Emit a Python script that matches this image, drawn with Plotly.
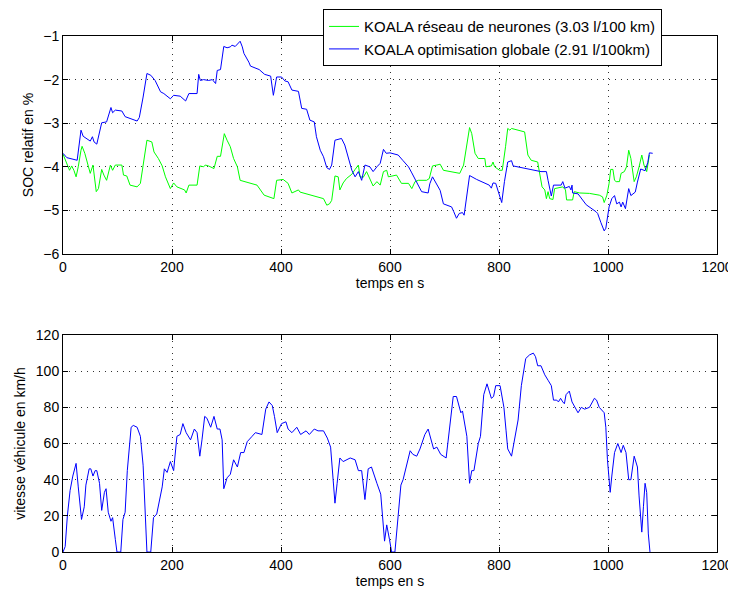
import plotly.graph_objects as go

# SOC relatif (%) - KOALA optimisation globale
t_opt = [0, 7, 26, 33, 37, 50, 54, 57, 62, 71, 80, 88, 91, 96, 108, 114, 136, 140, 147, 154,
         161, 169, 179, 185, 197, 203, 215, 225, 231, 246, 249, 252, 258, 267, 274, 280, 283, 289,
         295, 301, 307, 310, 316, 320, 325, 329, 332, 341, 344, 360, 370, 381, 386, 392, 401, 407,
         413, 420, 432, 438, 447, 453, 461, 465, 472, 478, 484, 489, 493, 499, 505, 511, 517, 524,
         530, 536, 542, 548, 554, 563, 569, 576, 582, 588, 593, 600, 615, 624, 634, 640, 649, 658,
         670, 673, 678, 686, 692, 698, 713, 717, 722, 727, 733, 736, 746, 759, 782, 786, 789, 794,
         800, 805, 810, 816, 823, 826, 877, 887, 890, 896, 900, 914, 917, 921, 929, 932, 934, 935,
         945, 954, 960, 978, 981, 987, 993, 996, 1002, 1007, 1012, 1016, 1021, 1024, 1027, 1032,
         1038, 1042, 1050, 1054, 1060, 1068, 1073, 1076, 1082]
soc_opt = [-3.69, -3.79, -3.85, -3.16, -3.30, -3.41, -3.31, -3.43, -3.48, -2.99, -2.97, -2.64,
           -2.76, -2.70, -2.72, -2.85, -2.95, -2.87, -2.40, -1.86, -1.90, -2.02, -2.28, -2.32,
           -2.44, -2.36, -2.38, -2.49, -2.32, -2.32, -1.88, -2.02, -2.00, -2.02, -2.00, -2.09,
           -1.79, -1.77, -1.24, -1.27, -1.25, -1.21, -1.24, -1.19, -1.12, -1.25, -1.40, -1.60,
           -1.69, -1.77, -1.88, -1.92, -2.36, -1.94, -1.94, -2.03, -2.05, -2.24, -2.27, -2.66,
           -2.68, -2.93, -2.97, -3.31, -3.62, -3.77, -4.02, -4.06, -3.96, -3.39, -3.37, -3.35,
           -3.50, -3.81, -4.08, -4.23, -4.11, -4.31, -3.96, -4.00, -4.11, -4.00, -3.92, -3.60,
           -3.69, -3.68, -3.73, -3.86, -4.00, -4.14, -4.34, -4.57, -4.60, -4.39, -4.23, -4.40,
           -4.54, -4.85, -4.92, -5.03, -5.18, -5.07, -5.05, -5.11, -4.20, -4.29, -4.42, -4.49,
           -4.37, -4.38, -4.65, -4.82, -4.34, -3.89, -3.86, -3.98, -4.11, -4.11, -4.31, -4.67,
           -4.42, -4.42, -4.34, -4.49, -4.45, -4.53, -4.42, -4.60, -4.62, -4.76, -4.87, -5.03,
           -5.07, -5.28, -5.47, -5.41, -4.92, -4.73, -4.66, -4.85, -4.81, -4.92, -4.81, -4.96,
           -4.50, -4.66, -4.58, -4.35, -4.05, -4.09, -3.90, -3.68, -3.69]

# SOC relatif (%) - KOALA reseau de neurones
t_nn = [0, 5, 12, 16, 20, 24, 28, 33, 35, 40, 50, 55, 61, 65, 71, 75, 80, 87, 91, 96, 108, 111,
        117, 123, 136, 142, 148, 154, 163, 167, 175, 182, 188, 197, 203, 209, 223, 226, 231, 246,
        251, 258, 261, 267, 277, 283, 289, 296, 301, 307, 313, 320, 325, 356, 369, 387, 392, 404,
        413, 420, 432, 435, 478, 484, 489, 493, 499, 505, 508, 514, 520, 530, 536, 542, 545, 551,
        557, 563, 569, 576, 582, 588, 594, 597, 612, 621, 634, 640, 646, 652, 667, 672, 678, 686,
        692, 698, 728, 735, 741, 746, 750, 756, 762, 774, 776, 786, 789, 792, 801, 806, 812, 816,
        820, 823, 847, 853, 859, 871, 874, 879, 884, 887, 890, 893, 899, 902, 917, 922, 924, 935,
        938, 948, 966, 984, 990, 993, 998, 1002, 1005, 1009, 1012, 1015, 1021, 1024, 1030, 1034,
        1038, 1042, 1048, 1052, 1057, 1062, 1066, 1071, 1076]
soc_nn = [-3.71, -3.85, -4.08, -3.98, -4.08, -4.23, -4.00, -3.62, -3.53, -3.69, -4.15, -3.96,
          -4.57, -4.50, -4.06, -4.19, -4.31, -3.96, -4.08, -3.96, -3.96, -4.19, -4.21, -4.42,
          -4.46, -4.38, -3.89, -3.39, -3.43, -3.66, -3.81, -3.98, -4.23, -4.50, -4.37, -4.46,
          -4.53, -4.60, -4.42, -4.42, -3.98, -4.00, -3.96, -3.98, -4.04, -3.76, -3.76, -3.24,
          -3.39, -3.54, -3.81, -4.00, -4.31, -4.42, -4.65, -4.73, -4.31, -4.29, -4.38, -4.60,
          -4.53, -4.58, -4.73, -4.88, -4.85, -4.77, -4.21, -4.23, -4.53, -4.37, -4.27, -4.17,
          -4.06, -3.96, -4.23, -4.24, -4.11, -4.29, -4.44, -4.34, -4.42, -4.11, -4.08, -4.23,
          -4.19, -4.38, -4.38, -4.50, -4.34, -4.31, -4.31, -4.27, -3.98, -3.96, -3.94, -4.08,
          -4.15, -3.96, -3.43, -3.10, -3.24, -3.69, -3.81, -3.81, -4.00, -3.98, -3.89, -4.00,
          -4.08, -4.08, -3.54, -3.12, -3.16, -3.12, -3.20, -3.73, -3.85, -3.89, -4.11, -4.46,
          -4.53, -4.73, -4.57, -4.73, -4.75, -4.50, -4.46, -4.53, -4.76, -4.76, -4.57, -4.60,
          -4.61, -4.65, -4.69, -4.82, -4.65, -4.38, -4.06, -4.06, -4.31, -4.34, -4.34, -4.15,
          -4.11, -4.00, -3.62, -3.81, -4.34, -4.23, -4.00, -3.73, -3.96, -4.11, -3.73]

# vitesse vehicule (km/h)
t_v = [0, 4, 8, 13, 18, 24, 28, 34, 39, 42, 48, 51, 55, 59, 62, 67, 71, 76, 79, 83, 88, 91, 96,
       99, 106, 110, 114, 118, 125, 129, 136, 142, 147, 151, 154, 161, 166, 172, 177, 182, 186,
       191, 197, 203, 209, 215, 220, 226, 234, 241, 246, 251, 255, 260, 264, 271, 277, 283, 288,
       292, 295, 301, 307, 313, 320, 326, 332, 338, 347, 353, 365, 372, 378, 384, 388, 393, 401,
       409, 413, 420, 429, 436, 446, 452, 461, 468, 478, 485, 491, 495, 499, 503, 508, 514, 527,
       536, 542, 548, 554, 560, 566, 576, 583, 590, 594, 599, 603, 609, 615, 620, 624, 631, 637,
       642, 649, 655, 664, 670, 680, 686, 693, 703, 716, 722, 730, 733, 741, 746, 750, 754, 762,
       766, 772, 778, 786, 790, 794, 802, 809, 813, 816, 823, 827, 835, 841, 849, 856, 863, 867,
       871, 877, 884, 890, 896, 900, 906, 909, 913, 917, 920, 923, 929, 934, 938, 945, 951, 957,
       966, 971, 975, 979, 984, 993, 996, 999, 1004, 1007, 1012, 1018, 1024, 1028, 1033, 1038,
       1042, 1048, 1054, 1057, 1062, 1065, 1068, 1071, 1074, 1077]
vitesse = [0, 3, 20, 34, 42, 49, 36, 18, 25, 37, 46, 46, 42, 45, 45, 38, 23, 33, 35, 22, 17, 19,
           7, 0, 0, 18, 22, 45, 69, 70, 69, 64, 48, 20, 0, 0, 19, 21, 28, 36, 46, 44, 50, 45, 64,
           65, 71, 66, 62, 68, 66, 53, 62, 75, 74, 69, 75, 68, 68, 62, 35, 41, 43, 51, 47, 55, 55,
           61, 64, 66, 65, 79, 83, 81, 75, 66, 71, 72, 68, 66, 69, 65, 67, 65, 68, 67, 67, 63, 58,
           40, 27, 38, 52, 50, 52, 51, 45, 45, 29, 46, 47, 38, 32, 6, 15, 7, 0, 0, 23, 37, 40, 49,
           56, 54, 53, 57, 65, 68, 57, 58, 54, 52, 86, 86, 77, 78, 64, 38, 45, 45, 60, 64, 87, 93,
           85, 86, 92, 92, 80, 67, 57, 53, 59, 73, 92, 107, 109, 110, 108, 103, 103, 98, 95, 92,
           84, 84, 83, 85, 83, 82, 87, 89, 83, 81, 77, 80, 79, 80, 83, 85, 84, 80, 77, 69, 51, 33,
           42, 55, 60, 55, 59, 55, 40, 40, 53, 47, 31, 11, 25, 38, 33, 10, 0]

x_ticks = [0, 200, 400, 600, 800, 1000, 1200]
soc_ticks = [-6, -5, -4, -3, -2, -1]
v_ticks = [0, 20, 40, 60, 80, 100, 120]

FONT = "Liberation Sans, Arial, sans-serif"
TXT = dict(family=FONT, size=14, color="black")

fig = go.Figure()
fig.add_trace(go.Scatter(x=t_nn, y=soc_nn, mode="lines", line=dict(color="#00ff00", width=1),
                         name="KOALA réseau de neurones (3.03 l/100 km)", xaxis="x", yaxis="y"))
fig.add_trace(go.Scatter(x=t_opt, y=soc_opt, mode="lines", line=dict(color="#0000ff", width=1),
                         name="KOALA optimisation globale (2.91 l/100km)", xaxis="x", yaxis="y"))
fig.add_trace(go.Scatter(x=t_v, y=vitesse, mode="lines", line=dict(color="#0000ff", width=1),
                         showlegend=False, xaxis="x2", yaxis="y2"))

ax = dict(showline=True, linecolor="black", linewidth=1, mirror="ticks", ticks="inside",
          ticklen=5, tickcolor="black", showgrid=True, gridcolor="#333333", gridwidth=1,
          griddash="1px,5px", zeroline=False, tickfont=TXT, automargin=False)

# the page body adds 8px around the plot div, so the figure is 8px smaller
fig.update_layout(
    width=728, height=586,
    margin=dict(l=55, r=19, t=28, b=42, autoexpand=False),
    paper_bgcolor="white", plot_bgcolor="white",
    font=TXT,
    xaxis=dict(ax, domain=[0, 1], anchor="y", range=[0, 1200], tickvals=x_ticks,
               title=dict(text="temps en s", standoff=0, font=TXT)),
    yaxis=dict(ax, domain=[0.5775, 1], anchor="x", range=[-6, -1], tickvals=soc_ticks,
               title=dict(text="SOC relatif en %", standoff=6, font=TXT)),
    xaxis2=dict(ax, domain=[0, 1], anchor="y2", range=[0, 1200], tickvals=x_ticks,
                title=dict(text="temps en s", standoff=0, font=TXT)),
    yaxis2=dict(ax, domain=[0, 0.4205], anchor="x2", range=[0, 120], tickvals=v_ticks,
                title=dict(text="vitesse véhicule en km/h", standoff=6, font=TXT)),
    legend=dict(x=0.3976, y=1.052, xanchor="left", yanchor="top", bgcolor="white",
                bordercolor="black", borderwidth=1, font=dict(family=FONT, size=15, color="black"),
                tracegroupgap=0, itemwidth=30),
    showlegend=True,
)

fig.write_html("out.html")
